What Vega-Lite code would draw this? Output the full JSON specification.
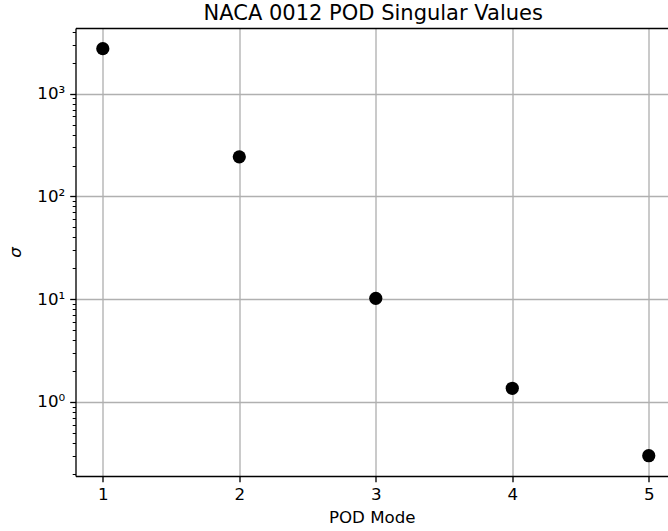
{
  "$schema": "https://vega.github.io/schema/vega-lite/v6.json",
  "autosize": {"type": "none"},
  "padding": {"left": 75.5, "top": 28, "right": 0, "bottom": 55},
  "width": 592.5,
  "height": 448,
  "background": "white",
  "title": {
    "text": "NACA 0012 POD Singular Values",
    "font": "DejaVu Sans",
    "fontSize": 21,
    "fontWeight": "normal",
    "color": "black",
    "anchor": "middle",
    "baseline": "alphabetic",
    "offset": 9,
    "dy": 22,
    "dx": 1.5
  },
  "config": {
    "view": {"stroke": null},
    "axis": {
      "labelFont": "DejaVu Sans",
      "labelFontSize": 16.67,
      "labelColor": "black",
      "titleFont": "DejaVu Sans",
      "titleFontSize": 16.67,
      "titleFontWeight": "normal",
      "titleColor": "black",
      "domainColor": "black",
      "domainWidth": 1.33,
      "tickColor": "black",
      "tickWidth": 1.33,
      "tickSize": 5.8,
      "labelPadding": 5,
      "gridColor": "#b0b0b0",
      "gridWidth": 1.33,
      "gridOpacity": 1
    }
  },
  "data": {
    "values": [
      {"mode": 1, "sigma": 2740},
      {"mode": 2, "sigma": 243},
      {"mode": 3, "sigma": 10.2},
      {"mode": 4, "sigma": 1.36},
      {"mode": 5, "sigma": 0.30}
    ]
  },
  "resolve": {"axis": {"x": "independent", "y": "independent"}},
  "layer": [
    {
      "mark": {"type": "point", "shape": "circle", "filled": true, "color": "black", "opacity": 1, "size": 175, "clip": false},
      "encoding": {
        "x": {
          "field": "mode",
          "type": "quantitative",
          "scale": {"domain": [0.8, 5.141], "nice": false, "zero": false},
          "axis": {
            "orient": "bottom",
            "values": [1, 2, 3, 4, 5],
            "format": "d",
            "grid": true,
            "title": "POD Mode",
            "titlePadding": 6
          }
        },
        "y": {
          "field": "sigma",
          "type": "quantitative",
          "scale": {"type": "log", "domain": [0.1905, 4355], "nice": false},
          "axis": {
            "orient": "left",
            "values": [1, 10, 100, 1000],
            "labelExpr": "'10' + ['⁰', '¹', '²', '³'][round(log(datum.value) / LN10)]",
            "grid": true,
            "title": "σ",
            "titleFontStyle": "italic",
            "titlePadding": 12
          }
        }
      }
    },
    {
      "mark": {"type": "point", "opacity": 0},
      "encoding": {
        "x": {
          "field": "mode",
          "type": "quantitative",
          "axis": {
            "orient": "top",
            "labels": false,
            "ticks": false,
            "grid": false,
            "title": null,
            "domain": true
          }
        },
        "y": {
          "field": "sigma",
          "type": "quantitative",
          "axis": {
            "orient": "left",
            "values": [0.2, 0.3, 0.4, 0.5, 0.6, 0.7, 0.8, 0.9, 2, 3, 4, 5, 6, 7, 8, 9, 20, 30, 40, 50, 60, 70, 80, 90, 200, 300, 400, 500, 600, 700, 800, 900, 2000, 3000, 4000],
            "labels": false,
            "grid": false,
            "domain": false,
            "title": null,
            "tickSize": 3.3,
            "tickWidth": 1
          }
        }
      }
    }
  ]
}
